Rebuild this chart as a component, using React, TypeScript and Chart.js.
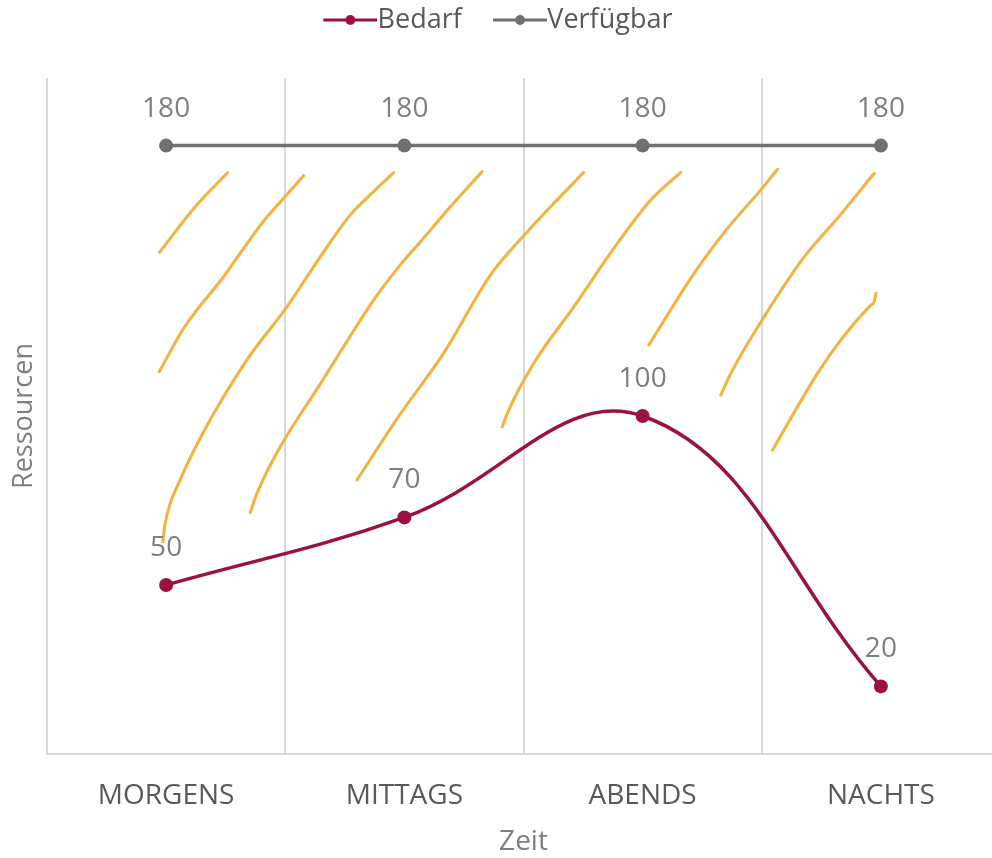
import React, { useEffect, useRef } from 'react';
import { Chart, registerables } from 'chart.js';

Chart.register(...registerables);

// ---------- data ----------
const CATEGORIES = ['MORGENS', 'MITTAGS', 'ABENDS', 'NACHTS'];
const SERIES_NAMES = ['Bedarf', 'Verfügbar'];
const BEDARF = [50, 70, 100, 20];
const VERFUEGBAR = [180, 180, 180, 180];
const Y_MIN = 0;
const Y_MAX = 200;
const X_TITLE = 'Zeit';
const Y_TITLE = 'Ressourcen';

// decorative hand-drawn hatch strokes, in (category index, value) units
const HATCH_1 = [
  { x: -0.028, y: 148.4 }, { x: 0.122, y: 161.9 }, { x: 0.258, y: 172.0 },
];
const HATCH_2 = [
  { x: -0.029, y: 113.1 }, { x: 0.073, y: 125.9 }, { x: 0.241, y: 141.2 },
  { x: 0.402, y: 157.0 }, { x: 0.493, y: 164.4 }, { x: 0.577, y: 171.1 },
];
const HATCH_3 = [
  { x: -0.014, y: 62.8 }, { x: -0.004, y: 68.3 }, { x: 0.059, y: 81.1 },
  { x: 0.150, y: 94.4 }, { x: 0.339, y: 116.6 }, { x: 0.507, y: 132.3 },
  { x: 0.647, y: 147.1 }, { x: 0.773, y: 159.5 }, { x: 0.871, y: 166.4 },
  { x: 0.955, y: 172.0 },
];
const HATCH_4 = [
  { x: 0.353, y: 71.4 }, { x: 0.381, y: 77.1 }, { x: 0.479, y: 90.9 },
  { x: 0.640, y: 108.7 }, { x: 0.871, y: 134.3 }, { x: 0.983, y: 144.7 },
  { x: 1.074, y: 152.1 }, { x: 1.193, y: 161.9 }, { x: 1.326, y: 172.3 },
];
const HATCH_5 = [
  { x: 0.801, y: 81.1 }, { x: 0.983, y: 100.6 }, { x: 1.165, y: 118.6 },
  { x: 1.361, y: 141.7 }, { x: 1.516, y: 154.5 }, { x: 1.600, y: 160.9 },
  { x: 1.753, y: 172.1 },
];
const HATCH_6 = [
  { x: 1.411, y: 96.8 }, { x: 1.432, y: 100.8 }, { x: 1.543, y: 115.6 },
  { x: 1.711, y: 132.3 }, { x: 1.879, y: 149.6 }, { x: 2.034, y: 163.9 },
  { x: 2.160, y: 172.1 },
];
const HATCH_7 = [
  { x: 2.026, y: 121.0 }, { x: 2.216, y: 142.2 }, { x: 2.356, y: 155.5 },
  { x: 2.496, y: 166.9 }, { x: 2.566, y: 173.0 },
];
const HATCH_8 = [
  { x: 2.328, y: 106.2 }, { x: 2.370, y: 112.6 }, { x: 2.510, y: 129.4 },
  { x: 2.678, y: 147.1 }, { x: 2.818, y: 158.5 }, { x: 2.972, y: 171.8 },
];
const HATCH_9 = [
  { x: 2.545, y: 89.9 }, { x: 2.734, y: 112.6 }, { x: 2.832, y: 122.5 },
  { x: 2.958, y: 132.8 }, { x: 2.972, y: 133.8 }, { x: 2.979, y: 136.3 },
];
const HATCHES = [HATCH_1, HATCH_2, HATCH_3, HATCH_4, HATCH_5, HATCH_6, HATCH_7, HATCH_8, HATCH_9];

// ---------- styles ----------
const FONT = "'Open Sans', 'Liberation Sans', sans-serif";
const C_BEDARF = '#9B1240';
const C_VERF = '#707070';
const C_HATCH = '#F4B23E';
const C_GRID = '#D9D9D9';
const C_TEXT = '#595959';
const C_LABEL = '#7F7F7F';
const SHIFT = 36; // negative left layout padding used to centre the legend like the original

function makeLegendIcon(color: string) {
  const c = document.createElement('canvas');
  c.width = 92;
  c.height = 14;
  const g = c.getContext('2d')!;
  g.strokeStyle = color;
  g.lineWidth = 3;
  g.beginPath();
  g.moveTo(38, 7);
  g.lineTo(92, 7);
  g.stroke();
  g.fillStyle = color;
  g.beginPath();
  g.arc(65, 7, 5, 0, Math.PI * 2);
  g.fill();
  return c;
}

const valueLabels = {
  id: 'valueLabels',
  afterDatasetsDraw(chart: any) {
    const ctx = chart.ctx;
    chart.data.datasets.forEach((ds: any, i: number) => {
      if (!ds.showValues) return;
      const meta = chart.getDatasetMeta(i);
      meta.data.forEach((pt: any, j: number) => {
        ctx.save();
        ctx.font = `28px ${FONT}`;
        ctx.fillStyle = C_LABEL;
        ctx.textAlign = 'center';
        ctx.textBaseline = 'middle';
        ctx.fillText(String(ds.data[j]), pt.x, pt.y - 37);
        ctx.restore();
      });
    });
  },
};

export default function App() {
  const ref = useRef<HTMLCanvasElement | null>(null);

  useEffect(() => {
    if (!ref.current) return;
    const icons = [makeLegendIcon(C_BEDARF), makeLegendIcon(C_VERF)];

    const mainSets: any[] = [
      {
        label: SERIES_NAMES[0], data: BEDARF, borderColor: C_BEDARF, backgroundColor: C_BEDARF,
        borderWidth: 3.5, tension: 0.4, pointRadius: 7, pointHoverRadius: 7, pointBorderWidth: 0,
        pointBackgroundColor: C_BEDARF, showValues: true, inLegend: true, xAxisID: 'x',
      },
      {
        label: SERIES_NAMES[1], data: VERFUEGBAR, borderColor: C_VERF, backgroundColor: C_VERF,
        borderWidth: 3.5, tension: 0, pointRadius: 7, pointHoverRadius: 7, pointBorderWidth: 0,
        pointBackgroundColor: C_VERF, showValues: true, inLegend: true, xAxisID: 'x',
      },
    ];
    const hatchSets: any[] = HATCHES.map((h, i) => ({
      label: 'hatch' + i, data: h, xAxisID: 'xd', borderColor: C_HATCH, borderWidth: 3,
      borderCapStyle: 'round', borderJoinStyle: 'round', cubicInterpolationMode: 'monotone',
      pointRadius: 0, pointHoverRadius: 0, fill: false, inLegend: false,
    }));

    const chart = new Chart(ref.current, {
      type: 'line',
      data: { labels: CATEGORIES, datasets: [...mainSets, ...hatchSets] },
      plugins: [valueLabels],
      options: {
        animation: false,
        responsive: false,
        events: [],
        layout: { padding: { left: -SHIFT, right: 0, top: 0, bottom: 0 } },
        plugins: {
          tooltip: { enabled: false },
          title: { display: true, text: '', weight: 500, padding: 0, font: { size: 34.5, lineHeight: 1 } },
          legend: {
            display: true, position: 'top',
            labels: {
              usePointStyle: true, pointStyleWidth: 65.5, padding: 6.5, color: C_TEXT,
              font: { family: FONT, size: 27 },
              filter: (item: any, data: any) => data.datasets[item.datasetIndex].inLegend,
              generateLabels: (ch: any) => {
                const items = (Chart as any).defaults.plugins.legend.labels.generateLabels(ch);
                return items.map((it: any) => ({
                  ...it,
                  pointStyle: it.datasetIndex < icons.length ? icons[it.datasetIndex] : it.pointStyle,
                }));
              },
            },
          },
        },
        scales: {
          x: {
            type: 'category', offset: true,
            grid: { display: true, offset: true, color: C_GRID, lineWidth: 2, drawTicks: false },
            border: { display: true, color: C_GRID, width: 2 },
            ticks: { color: C_TEXT, font: { family: FONT, size: 28, lineHeight: 1 }, padding: 28, maxRotation: 0, autoSkip: false },
            title: { display: true, text: X_TITLE, color: C_LABEL, font: { family: FONT, size: 28, lineHeight: 1 }, padding: { top: 0, bottom: 2 } },
            afterFit: (s: any) => { s.height = 104; },
          },
          xd: { type: 'linear', display: false, min: -0.5, max: CATEGORIES.length - 0.5 },
          y: {
            type: 'linear', min: Y_MIN, max: Y_MAX,
            grid: { display: false }, border: { display: false }, ticks: { display: false },
            title: { display: true, text: Y_TITLE, color: C_LABEL, font: { family: FONT, size: 27, lineHeight: 1 }, padding: { top: 11 + SHIFT, bottom: 0 } },
            afterFit: (s: any) => { s.width = 47 + SHIFT; },
          },
        },
      } as any,
    });
    return () => chart.destroy();
  }, []);

  return (
    <div style={{ position: 'absolute', left: 0, top: 0, width: 992, height: 858, overflow: 'hidden', background: '#fff' }}>
      <canvas ref={ref} width={1007} height={858} style={{ width: 1007, height: 858, display: 'block' }} />
    </div>
  );
}
